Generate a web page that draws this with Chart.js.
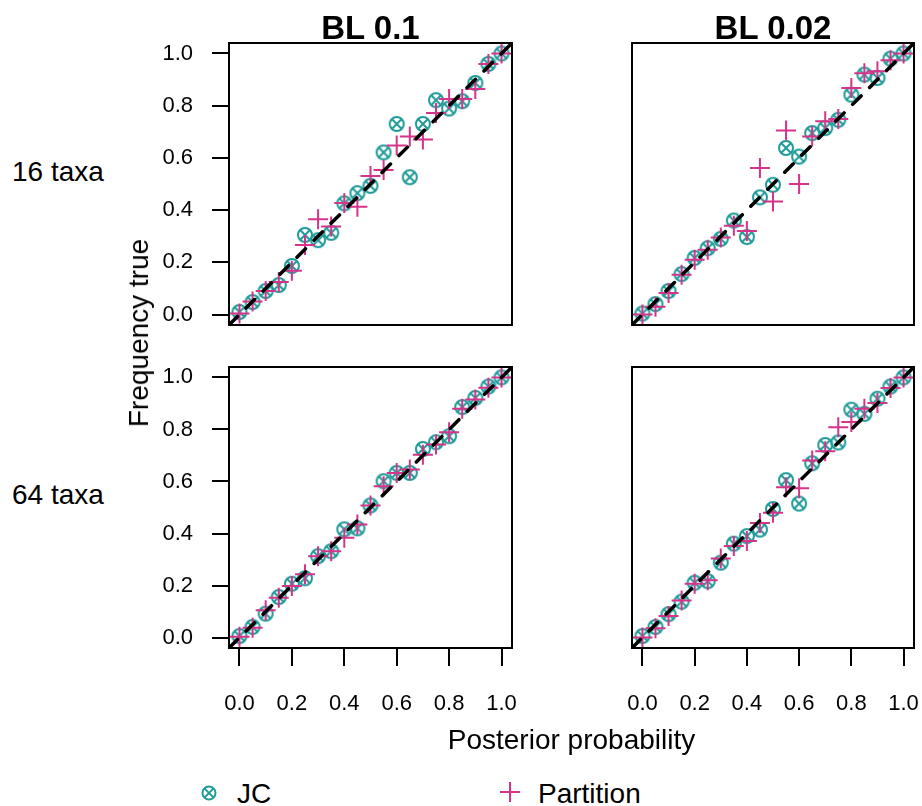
<!DOCTYPE html>
<html><head><meta charset="utf-8">
<script src="https://cdn.jsdelivr.net/npm/chart.js@4"></script>
<style>
html,body{margin:0;padding:0;background:#fff;}
#wrap{position:relative;width:922px;height:806px;overflow:hidden;font-family:"Liberation Sans",Arial,sans-serif;color:#000;background:#fff;}
.cv{position:absolute;}
.t{position:absolute;white-space:nowrap;line-height:1;}
</style></head><body>
<div id="wrap">
<div class="cv" style="left:120px;top:35px;width:400px;height:300px"><canvas id="c1" width="400" height="300"></canvas></div>
<div class="cv" style="left:624px;top:35px;width:298px;height:300px"><canvas id="c2" width="298" height="300"></canvas></div>
<div class="cv" style="left:120px;top:359px;width:400px;height:369px"><canvas id="c3" width="400" height="369"></canvas></div>
<div class="cv" style="left:624px;top:359px;width:298px;height:369px"><canvas id="c4" width="298" height="369"></canvas></div>

<div class="t" style="left:229px;width:283px;top:11px;text-align:center;font-weight:bold;font-size:33px">BL 0.1</div>
<div class="t" style="left:632px;width:282px;top:11px;text-align:center;font-weight:bold;font-size:33px">BL 0.02</div>
<div class="t" style="left:12px;top:158px;font-size:28px">16 taxa</div>
<div class="t" style="left:12px;top:481px;font-size:28px">64 taxa</div>
<div class="t" style="left:139px;top:333px;font-size:28px;transform:translate(-50%,-50%) rotate(-90deg);">Frequency true</div>
<div class="t" style="left:229px;width:685px;top:726px;text-align:center;font-size:28px">Posterior probability</div>

<svg style="position:absolute;left:199px;top:783px" width="20" height="20">
  <circle cx="10" cy="10" r="6.5" fill="none" stroke="#1f9a98" stroke-width="2"/>
  <path d="M5.4 5.4 L14.6 14.6 M14.6 5.4 L5.4 14.6" stroke="#1f9a98" stroke-width="2"/>
</svg>
<div class="t" style="left:237px;top:780px;font-size:28px">JC</div>
<svg style="position:absolute;left:498px;top:780px" width="24" height="24">
  <path d="M2 12 L22 12 M12 2 L12 22" stroke="#d6338a" stroke-width="2"/>
</svg>
<div class="t" style="left:538px;top:780px;font-size:28px">Partition</div>
</div>
<script>
// ---- data ----
const probBins = [0.00,0.05,0.10,0.15,0.20,0.25,0.30,0.35,0.40,0.45,0.50,0.55,0.60,0.65,0.70,0.75,0.80,0.85,0.90,0.95,1.00];
const tickValues = [0.0,0.2,0.4,0.6,0.8,1.0];

const jc16_bl01   = [0.010,0.048,0.090,0.113,0.186,0.305,0.285,0.313,0.426,0.465,0.493,0.621,0.730,0.526,0.730,0.821,0.789,0.817,0.887,0.960,1.000];
const part16_bl01 = [0.004,0.050,0.090,0.125,0.168,0.266,0.365,0.337,0.427,0.413,0.531,0.554,0.647,0.682,0.670,0.772,0.826,0.826,0.864,0.960,1.000];

const jc16_bl002   = [0.004,0.040,0.090,0.155,0.217,0.254,0.290,0.360,0.297,0.449,0.497,0.638,0.605,0.695,0.714,0.746,0.842,0.919,0.906,0.980,1.000];
const part16_bl002 = [0.000,0.030,0.083,0.152,0.210,0.248,0.295,0.340,0.320,0.561,0.433,0.705,0.500,0.682,0.740,0.749,0.868,0.924,0.932,0.974,1.000];

const jc64_bl01   = [0.006,0.041,0.092,0.156,0.207,0.228,0.313,0.332,0.416,0.420,0.508,0.601,0.633,0.633,0.725,0.751,0.774,0.886,0.921,0.965,1.000];
const part64_bl01 = [0.003,0.038,0.105,0.153,0.198,0.243,0.313,0.332,0.384,0.435,0.508,0.582,0.633,0.646,0.703,0.742,0.789,0.880,0.915,0.960,1.000];

const jc64_bl002   = [0.006,0.041,0.090,0.138,0.211,0.217,0.288,0.361,0.390,0.415,0.494,0.605,0.515,0.670,0.740,0.750,0.876,0.860,0.918,0.965,1.000];
const part64_bl002 = [0.000,0.036,0.083,0.143,0.207,0.220,0.304,0.352,0.371,0.440,0.480,0.578,0.574,0.681,0.716,0.808,0.829,0.880,0.902,0.959,1.000];

// ---- style ----
const AX_MIN = -0.04, AX_MAX = 1.04;
const TEAL = '#1f9a98', MAGENTA = '#d6338a';
const FONT = '"Liberation Sans", Arial, sans-serif';

function jcSymbol(color){
  const c = document.createElement('canvas'); c.width = 20; c.height = 20;
  const g = c.getContext('2d');
  g.strokeStyle = color; g.lineWidth = 2;
  g.beginPath(); g.arc(10,10,7,0,Math.PI*2); g.stroke();
  const d = 4.95;
  g.beginPath(); g.moveTo(10-d,10-d); g.lineTo(10+d,10+d); g.moveTo(10+d,10-d); g.lineTo(10-d,10+d); g.stroke();
  return c;
}
const jcImg = jcSymbol(TEAL);

const boxPlugin = {id:'box', afterDraw(chart){
  const {ctx, chartArea:a} = chart;
  ctx.save(); ctx.strokeStyle = '#000'; ctx.lineWidth = 2;
  ctx.strokeRect(a.left, a.top, a.right-a.left, a.bottom-a.top);
  ctx.restore();
}};

function makePanel(id, jc, part, showX, showY, pad){
  const refLine = [AX_MIN, AX_MAX].map(v => ({x:v, y:v}));
  new Chart(document.getElementById(id), {
    type:'scatter',
    data:{datasets:[
      {type:'line', data:refLine, borderColor:'#000', borderWidth:3.5, borderDash:[12,12], borderCapStyle:'round', pointRadius:0, fill:false, order:0},
      {data:probBins.map((x,i)=>({x, y:part[i]})), pointStyle:'cross', pointRadius:10, borderColor:MAGENTA, backgroundColor:MAGENTA, borderWidth:2, order:1},
      {data:probBins.map((x,i)=>({x, y:jc[i]})), pointStyle:jcImg, pointRadius:9, borderColor:TEAL, order:2}
    ]},
    options:{
      responsive:true, maintainAspectRatio:false, animation:false, events:[], devicePixelRatio:1,
      layout:{padding:pad, autoPadding:false},
      plugins:{legend:{display:false}, tooltip:{enabled:false}},
      scales:{
        x:{type:'linear', position:'bottom', min:AX_MIN, max:AX_MAX, display:showX,
           afterBuildTicks:s=>{s.ticks = tickValues.map(v=>({value:v}));},
           afterFit:s=>{ if(showX){ s.height = 80; } s.paddingLeft = 0; s.paddingRight = 0;},
           ticks:{callback:v=>Number(v).toFixed(1), font:{family:FONT, size:22}, color:'#000', padding:25, maxRotation:0, minRotation:0, autoSkip:false},
           grid:{drawOnChartArea:false, drawTicks:true, tickLength:18, color:'#000', lineWidth:2},
           border:{display:false}},
        y:{type:'linear', position:'left', min:AX_MIN, max:AX_MAX, display:showY,
           afterBuildTicks:s=>{s.ticks = tickValues.map(v=>({value:v}));},
           afterFit:s=>{ if(showY){ s.width = 109; } s.paddingTop = 0; s.paddingBottom = 0;},
           ticks:{callback:v=>Number(v).toFixed(1), font:{family:FONT, size:22}, color:'#000', padding:19, autoSkip:false},
           grid:{drawOnChartArea:false, drawTicks:true, tickLength:17, color:'#000', lineWidth:2},
           border:{display:false}}
      }
    },
    plugins:[boxPlugin]
  });
}

makePanel('c1', jc16_bl01,  part16_bl01,  false, true,  {left:0, top:8, right:8, bottom:10});
makePanel('c2', jc16_bl002, part16_bl002, false, false, {left:8, top:8, right:8, bottom:10});
makePanel('c3', jc64_bl01,  part64_bl01,  true,  true,  {left:0, top:8, right:8, bottom:0});
makePanel('c4', jc64_bl002, part64_bl002, true,  false, {left:8, top:8, right:8, bottom:0});
</script>
</body></html>
